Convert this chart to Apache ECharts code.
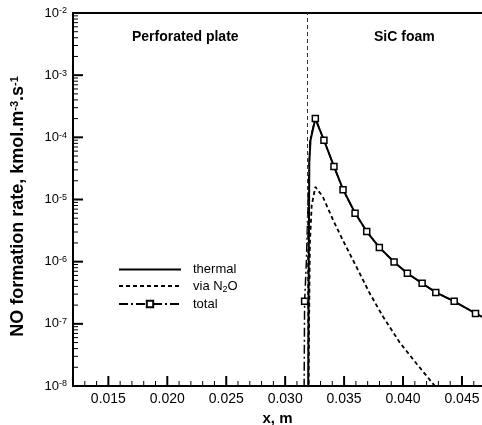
<!DOCTYPE html>
<html><head><meta charset="utf-8">
<script src="https://cdn.jsdelivr.net/npm/echarts@6/dist/echarts.min.js"></script>
<style>html,body{margin:0;padding:0;background:#fff}#c{width:482px;height:425px}</style>
</head><body><div id="c"></div>
<script>
// ---- data ----
const thermalX = [0.03195, 0.03200, 0.03205, 0.03215, 0.03256, 0.03329, 0.03414, 0.03491, 0.03593, 0.03692, 0.03799, 0.03924, 0.04037, 0.04162, 0.04278, 0.04434, 0.04615, 0.04670];
const thermalY = [5e-9, 1e-6, 4e-5, 9e-5, 2.0e-4, 9.0e-5, 3.4e-5, 1.45e-5, 6.1e-6, 3.05e-6, 1.7e-6, 9.9e-7, 6.5e-7, 4.5e-7, 3.2e-7, 2.3e-7, 1.47e-7, 1.3e-7];

const viaN2OX = [0.03198, 0.03203, 0.03210, 0.03225, 0.03256, 0.03320, 0.03406, 0.03490, 0.03604, 0.03717, 0.03831, 0.03972, 0.04114, 0.04270, 0.04350];
const viaN2OY = [5e-9, 1e-7, 2e-6, 8e-6, 1.6e-5, 1.1e-5, 4.7e-6, 2.2e-6, 8.3e-7, 3.1e-7, 1.3e-7, 5.0e-8, 2.3e-8, 1.0e-8, 5e-9];

// total: points drawn with square markers
const totalMarkX = [0.03165, 0.03256, 0.03329, 0.03414, 0.03491, 0.03593, 0.03692, 0.03799, 0.03924, 0.04037, 0.04162, 0.04278, 0.04434, 0.04615];
const totalMarkY = [2.3e-7, 2.0e-4, 9.0e-5, 3.4e-5, 1.43e-5, 6.0e-6, 3.05e-6, 1.69e-6, 9.9e-7, 6.5e-7, 4.5e-7, 3.2e-7, 2.3e-7, 1.47e-7];
// total: intermediate points without markers
const totalPlainX = [0.03160, 0.03180, 0.03195, 0.03210, 0.04670];
const totalPlainY = [5e-9, 1e-6, 1e-5, 9e-5, 1.3e-7];

const interfaceX = 0.0319;
const xMin = 0.012, xMax = 0.0467;
const yMin = 1e-8, yMax = 1e-2;
const xLabelTicks = [0.015, 0.020, 0.025, 0.030, 0.035, 0.040, 0.045];
const xMinorTicks = [0.012,0.013,0.014,0.016,0.017,0.018,0.019,0.021,0.022,0.023,0.024,0.026,0.027,0.028,0.029,0.031,0.032,0.033,0.034,0.036,0.037,0.038,0.039,0.041,0.042,0.043,0.044,0.046];
const yDecades = [-8, -7, -6, -5, -4, -3, -2];
const yMinorMantissa = [2, 3, 4, 5, 6, 7, 8, 9];

// ---- build ----
const FONT = 'Liberation Sans';
const pairs = (xs, ys) => xs.map((x, i) => [x, ys[i]]);
const totalData = pairs(totalMarkX, totalMarkY).map(p => ({ value: p }))
  .concat(pairs(totalPlainX, totalPlainY).map(p => ({ value: p, symbol: 'none' })))
  .sort((a, b) => a.value[0] - b.value[0]);

// tick items: [x, y, kind]  kind 0 = x major, 1 = x minor, 2 = y major, 3 = y minor
const tickItems = [];
xLabelTicks.forEach(v => tickItems.push([v, yMin, 0]));
xMinorTicks.forEach(v => tickItems.push([v, yMin, 1]));
yDecades.forEach(d => tickItems.push([xMin, Math.pow(10, d), 2]));
yDecades.slice(0, -1).forEach(d => yMinorMantissa.forEach(m => tickItems.push([xMin, Number((m * Math.pow(10, d)).toPrecision(3)), 3])));
const tickLen = [10, 5, 10, 5];

const textGraphics = [
  { type: 'text', id: 'lblPlate', left: 132, top: 30, style: { text: 'Perforated plate', font: 'bold 14px "Liberation Sans"', fill: '#000' } },
  { type: 'text', id: 'lblFoam', left: 374, top: 30, style: { text: 'SiC foam', font: 'bold 14px "Liberation Sans"', fill: '#000' } }
];

const chart = echarts.init(document.getElementById('c'), null, { renderer: 'canvas' });
chart.setOption({
  animation: false,
  backgroundColor: '#fff',
  textStyle: { fontFamily: FONT },
  grid: { left: 73, right: 0, top: 13, bottom: 39, outerBoundsMode: 'none', containLabel: false },
  legend: {
    orient: 'vertical', left: 118, top: 263, padding: 0,
    itemWidth: 62, itemHeight: 8, itemGap: 3.5,
    data: [
      { name: 'thermal', itemStyle: { opacity: 0 } },
      { name: 'via N2O', itemStyle: { opacity: 0 } },
      { name: 'total' }
    ],
    formatter: n => n === 'via N2O' ? '{p|via N}{s|2}{t|O}' : '{p|' + n + '}',
    textStyle: {
      color: '#000', fontFamily: FONT, fontSize: 13,
      rich: {
        p: { fontSize: 13, fontFamily: FONT, color: '#000', lineHeight: 16, padding: [0, 0, 0, 7] },
        t: { fontSize: 13, fontFamily: FONT, color: '#000', lineHeight: 16 },
        s: { fontSize: 9, fontFamily: FONT, color: '#000', verticalAlign: 'bottom', padding: [6, 0, 0, 0] }
      }
    }
  },
  xAxis: [
    {
      type: 'value', min: xMin, max: xMax, position: 'bottom',
      name: 'x, m', nameLocation: 'middle', nameGap: 18,
      nameTextStyle: { fontFamily: FONT, fontSize: 15, fontWeight: 'bold', color: '#000' },
      axisLine: { show: true, onZero: false, lineStyle: { color: '#000', width: 2 } },
      axisTick: { show: false },
      axisLabel: { customValues: xLabelTicks, formatter: v => v.toFixed(3), color: '#000', fontSize: 14, fontFamily: FONT, margin: 6 },
      splitLine: { show: false }
    },
    {
      type: 'value', min: xMin, max: xMax, position: 'top',
      axisLine: { show: true, onZero: false, lineStyle: { color: '#000', width: 2 } },
      axisTick: { show: false }, axisLabel: { show: false }, splitLine: { show: false }
    }
  ],
  yAxis: [
    {
      type: 'log', logBase: 10, min: yMin, max: yMax, position: 'left',
      name: 'NO formation rate, kmol.m{s|-3}.s{s|-1}', nameLocation: 'middle', nameGap: 46, nameRotate: 90,
      nameTextStyle: {
        fontFamily: FONT, fontSize: 18, fontWeight: 'bold', color: '#000', padding: [0, 14, 0, 0],
        rich: { s: { fontSize: 11, fontWeight: 'bold', fontFamily: FONT, color: '#000', verticalAlign: 'top' } }
      },
      axisLine: { show: true, onZero: false, lineStyle: { color: '#000', width: 2 } },
      axisTick: { show: false },
      axisLabel: {
        color: '#000', margin: 6,
        formatter: v => '{b|10}{s|' + Math.round(Math.log10(v)) + '}',
        rich: {
          b: { fontSize: 13, fontFamily: FONT, color: '#000' },
          s: { fontSize: 9, fontFamily: FONT, color: '#000', verticalAlign: 'top' }
        }
      },
      splitLine: { show: false }
    }
  ],
  graphic: textGraphics,
  series: [
    {
      name: 'thermal', type: 'line', xAxisIndex: 0, yAxisIndex: 0,
      data: pairs(thermalX, thermalY), symbol: 'none', smooth: false,
      lineStyle: { color: '#000', width: 2 }, itemStyle: { color: '#000' },
      markLine: {
        silent: true, symbol: 'none', label: { show: false }, precision: 6,
        lineStyle: { color: '#333', width: 1, type: [4, 3] },
        data: [{ xAxis: interfaceX }]
      }
    },
    {
      name: 'via N2O', type: 'line', xAxisIndex: 0, yAxisIndex: 0,
      data: pairs(viaN2OX, viaN2OY), symbol: 'none', smooth: false,
      lineStyle: { color: '#000', width: 1.8, type: [4, 3] }, itemStyle: { color: '#000' }
    },
    {
      name: 'total', type: 'line', xAxisIndex: 0, yAxisIndex: 0,
      data: totalData, symbol: 'rect', symbolSize: 6, showAllSymbol: true,
      lineStyle: { color: '#000', width: 1.5, type: [9, 3, 2, 3] },
      itemStyle: { color: '#fff', borderColor: '#000', borderWidth: 1.5 }
    }
  ]
});

// axis ticks, placed through the chart's own axis scales
const tickGraphics = tickItems.map(([x, y, k], i) => {
  const p = chart.convertToPixel({ xAxisIndex: 0, yAxisIndex: 0 }, [x, y]);
  const L = tickLen[k];
  const shape = k < 2
    ? { x1: p[0], y1: p[1], x2: p[0], y2: p[1] - L }
    : { x1: p[0], y1: p[1], x2: p[0] + L, y2: p[1] };
  return { type: 'line', id: 'tick' + i, shape, silent: true, z: 100,
           style: { stroke: '#000', lineWidth: (k % 2 === 0) ? 2 : 1 } };
});
chart.setOption({ graphic: textGraphics.concat(tickGraphics) });
</script></body></html>
